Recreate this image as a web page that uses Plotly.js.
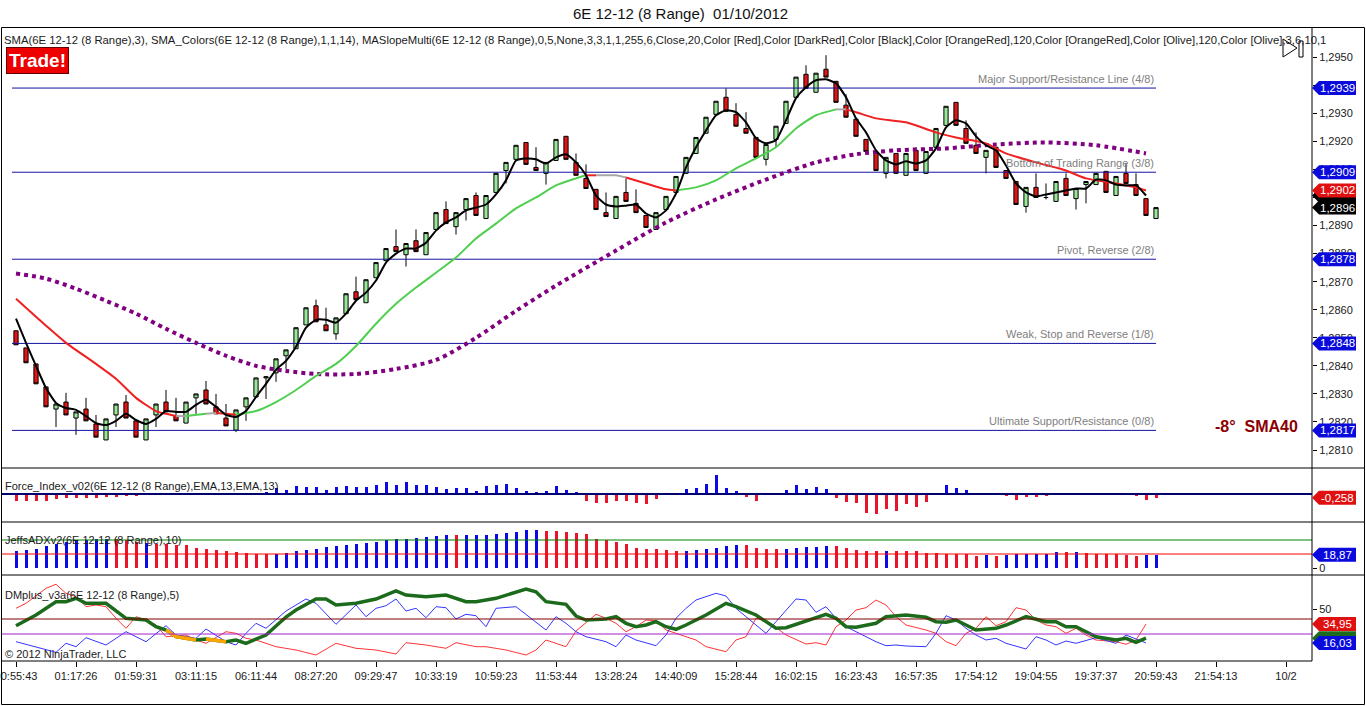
<!DOCTYPE html>
<html><head><meta charset="utf-8">
<script src="https://cdn.plot.ly/plotly-3.0.1.min.js"></script>
<style>html,body{margin:0;padding:0;background:#fff;}#chart{width:1366px;height:706px;}</style>
</head><body><div id="chart"></div>
<script>
// ---------------- DATA ----------------
const barIndex = Array.from({length:115},(_,i)=>i);
const opens = [1.28525,1.28464,1.28407,1.28325,1.28246,1.28271,1.28214,1.28246,1.28193,1.28136,
1.28225,1.28271,1.28204,1.28136,1.28225,1.28271,1.28221,1.28196,1.28286,1.28314,
1.28254,1.28214,1.28171,1.28254,1.28289,1.28357,1.28375,1.28436,1.28461,1.28546,
1.28614,1.28546,1.28514,1.28586,1.28664,1.28625,1.28714,1.28775,1.28825,1.28796,
1.28846,1.28796,1.28886,1.28957,1.28896,1.28957,1.29007,1.28925,1.29018,1.29096,
1.29136,1.29196,1.29107,1.29086,1.29132,1.29218,1.29125,1.29068,1.29029,1.28946,
1.28925,1.29018,1.28979,1.28936,1.28886,1.28957,1.29018,1.29086,1.29157,1.29229,
1.29296,1.29357,1.29296,1.29246,1.29214,1.29136,1.29207,1.29264,1.29357,1.29439,
1.29375,1.29457,1.29414,1.29329,1.29279,1.29207,1.29157,1.29086,1.29157,1.29079,
1.29168,1.29086,1.29179,1.29257,1.29339,1.29246,1.29186,1.29143,1.29179,1.29096,
1.29057,1.28968,1.29036,1.29000,1.28986,1.29068,1.28996,1.29046,1.29046,1.29093,
1.29007,1.29086,1.29046,1.28996,1.28925];
const highs = [1.28525,1.28464,1.28407,1.28325,1.28264,1.28304,1.28236,1.28286,1.28225,1.28211,
1.28264,1.28296,1.28204,1.28211,1.28264,1.28314,1.28286,1.28271,1.28300,1.28346,
1.28300,1.28264,1.28243,1.28286,1.28357,1.28364,1.28425,1.28457,1.28536,1.28607,
1.28636,1.28607,1.28571,1.28657,1.28718,1.28707,1.28768,1.28818,1.28886,1.28836,
1.28886,1.28875,1.28946,1.28986,1.28946,1.28996,1.29018,1.29007,1.29086,1.29125,
1.29186,1.29196,1.29179,1.29125,1.29207,1.29218,1.29157,1.29118,1.29029,1.29018,
1.29004,1.29068,1.29029,1.28936,1.28946,1.29004,1.29075,1.29143,1.29214,1.29286,
1.29343,1.29389,1.29336,1.29304,1.29214,1.29189,1.29254,1.29343,1.29429,1.29471,
1.29443,1.29507,1.29414,1.29368,1.29279,1.29207,1.29157,1.29143,1.29157,1.29157,
1.29179,1.29164,1.29246,1.29325,1.29339,1.29275,1.29232,1.29168,1.29179,1.29096,
1.29057,1.29036,1.29086,1.29050,1.29057,1.29086,1.29032,1.29057,1.29086,1.29093,
1.29075,1.29121,1.29086,1.28996,1.28964];
const lows = [1.28475,1.28411,1.28336,1.28254,1.28182,1.28225,1.28154,1.28204,1.28146,1.28136,
1.28182,1.28214,1.28146,1.28136,1.28182,1.28236,1.28204,1.28196,1.28229,1.28264,
1.28229,1.28186,1.28164,1.28204,1.28289,1.28282,1.28343,1.28389,1.28461,1.28546,
1.28557,1.28525,1.28493,1.28586,1.28636,1.28625,1.28714,1.28775,1.28807,1.28754,
1.28807,1.28796,1.28886,1.28907,1.28868,1.28918,1.28936,1.28925,1.29018,1.29050,
1.29136,1.29118,1.29096,1.29046,1.29132,1.29136,1.29079,1.29032,1.28957,1.28932,
1.28925,1.28986,1.28946,1.28893,1.28886,1.28957,1.29018,1.29086,1.29157,1.29229,
1.29296,1.29307,1.29254,1.29229,1.29143,1.29114,1.29179,1.29264,1.29357,1.29389,
1.29375,1.29429,1.29339,1.29286,1.29218,1.29164,1.29096,1.29068,1.29086,1.29079,
1.29096,1.29086,1.29179,1.29257,1.29257,1.29193,1.29157,1.29086,1.29107,1.29068,
1.28975,1.28946,1.29000,1.28993,1.28986,1.29007,1.28957,1.28979,1.29046,1.29018,
1.29007,1.29050,1.29007,1.28936,1.28925];
const closes = [1.28475,1.28411,1.28336,1.28254,1.28264,1.28225,1.28236,1.28204,1.28146,1.28211,
1.28264,1.28214,1.28146,1.28211,1.28264,1.28236,1.28204,1.28271,1.28300,1.28264,
1.28229,1.28186,1.28243,1.28286,1.28357,1.28361,1.28425,1.28457,1.28536,1.28607,
1.28557,1.28525,1.28571,1.28657,1.28636,1.28707,1.28768,1.28818,1.28807,1.28836,
1.28807,1.28875,1.28946,1.28907,1.28946,1.28996,1.28936,1.29007,1.29086,1.29125,
1.29186,1.29118,1.29096,1.29125,1.29207,1.29136,1.29079,1.29032,1.28957,1.28932,
1.29004,1.28986,1.28946,1.28893,1.28946,1.29004,1.29075,1.29143,1.29214,1.29286,
1.29343,1.29307,1.29254,1.29229,1.29143,1.29189,1.29254,1.29343,1.29429,1.29389,
1.29443,1.29429,1.29339,1.29286,1.29218,1.29164,1.29096,1.29143,1.29086,1.29157,
1.29096,1.29164,1.29246,1.29325,1.29257,1.29193,1.29157,1.29168,1.29107,1.29068,
1.28975,1.29036,1.29000,1.29000,1.29057,1.29007,1.29032,1.29057,1.29086,1.29018,
1.29075,1.29050,1.29007,1.28936,1.28964];

// SMA(3) black, one value per bar 0..113
const sma3 = [1.28568,1.28482,1.28400,1.28321,1.28268,1.28250,1.28243,1.28221,1.28196,1.28189,
1.28204,1.28229,1.28207,1.28193,1.28211,1.28239,1.28236,1.28236,1.28261,1.28279,
1.28254,1.28225,1.28218,1.28239,1.28289,1.28336,1.28386,1.28418,1.28468,1.28536,
1.28564,1.28564,1.28554,1.28586,1.28632,1.28661,1.28704,1.28768,1.28800,1.28818,
1.28818,1.28839,1.28882,1.28911,1.28929,1.28954,1.28964,1.28975,1.29011,1.29061,
1.29132,1.29139,1.29136,1.29121,1.29143,1.29154,1.29125,1.29079,1.29007,1.28975,
1.28968,1.28971,1.28975,1.28943,1.28929,1.28954,1.29014,1.29107,1.29179,1.29239,
1.29293,1.29311,1.29304,1.29268,1.29211,1.29193,1.29204,1.29275,1.29354,1.29393,
1.29418,1.29421,1.29407,1.29357,1.29282,1.29232,1.29168,1.29132,1.29118,1.29129,
1.29121,1.29132,1.29175,1.29250,1.29275,1.29264,1.29218,1.29186,1.29168,1.29114,
1.29050,1.29018,1.29004,1.29011,1.29018,1.29025,1.29032,1.29032,1.29064,1.29061,
1.29046,1.29043,1.29043,1.29007];

// SMA_Colors (14) read at these bars, with the colour state of the following segment
const sma14Bars = [0,3,5,8,10,12,14,15,16,17,19,20,21,22,24,26,28,30,32,34,36,38,40,42,44,46,48,50,52,54,56,57,58,60,61,63,65,66,68,70,72,74,76,78,80,82,83,84,86,89,92,94,97,99,102,105,107,110,112,113];
const sma14Vals = [1.28639,1.28543,1.28482,1.28407,1.28354,1.28286,1.28239,1.28229,1.28221,1.28221,
1.28229,1.28232,1.28229,1.28226,1.28239,1.28271,1.28314,1.28364,1.28407,1.28471,
1.28550,1.28621,1.28679,1.28732,1.28786,1.28854,1.28907,1.28961,1.29000,1.29043,
1.29068,1.29079,1.29079,1.29079,1.29071,1.29050,1.29029,1.29025,1.29036,1.29061,
1.29104,1.29139,1.29179,1.29246,1.29293,1.29314,1.29314,1.29304,1.29282,1.29268,
1.29232,1.29214,1.29193,1.29157,1.29125,1.29096,1.29068,1.29050,1.29036,1.29025];
const sma14State = ['dn','dn','dn','dn','dn','dn','dn','dn','fl','up','fl','dn','dn',
'up','up','up','up','up','up','up','up','up','up','up','up','up','up','up','up','up','up',
'dn','fl','fl','dn','dn','dn','up','up','up','up','up','up','up','up','fl',
'dn','dn','dn','dn','dn','dn','dn','dn','dn','dn','dn','dn','dn','dn'];

// MASlopeMulti (SMA40) purple dotted
const sma40Bars = [0,3,6,9,12,15,18,21,24,27,30,34,38,42,46,50,54,60,65,70,75,80,84,88,93,98,103,108,113];
const sma40Vals = [1.28729,1.28711,1.28675,1.28632,1.28586,1.28532,1.28482,1.28436,1.28400,1.28382,1.28371,1.28371,1.28389,1.28421,1.28500,1.28596,1.28686,1.28811,1.28911,1.28993,1.29064,1.29125,1.29154,1.29168,1.29175,1.29189,1.29196,1.29186,1.29157];

// Murrey math levels
const levelVals = [1.2939,1.2909,1.2878,1.2848,1.2817];
const levelNames = ['Major Support/Resistance Line (4/8)','Bottom of Trading Range (3/8)','Pivot, Reverse (2/8)','Weak, Stop and Reverse (1/8)','Ultimate Support/Resistance (0/8)'];
const levelStart = -0.4, levelEnd = 114;

// Force index
const forceVals = [-0.47,-0.47,-0.47,-0.47,-0.37,-0.30,-0.26,-0.26,-0.26,-0.23,
-0.19,-0.14,-0.12,-0.10,-0.10,-0.10,-0.10,-0.10,-0.10,-0.10,
-0.10,-0.10,-0.10,-0.05,0.05,0.12,0.40,0.28,0.56,0.51,
0.51,0.28,0.47,0.56,0.51,0.51,0.63,0.82,0.63,0.82,
0.63,0.63,0.51,0.33,0.40,0.40,0.23,0.56,0.63,0.70,
0.40,0.21,0.14,0.19,0.56,0.28,0.14,-0.47,-0.65,-0.65,
-0.47,-0.47,-0.65,-0.72,-0.37,-0.07,0.02,0.35,0.44,0.70,
1.33,0.40,0.21,-0.19,-0.47,-0.05,0.09,0.28,0.63,0.35,
0.51,0.35,-0.30,-0.54,-0.61,-1.31,-1.42,-1.07,-1.17,-0.72,
-0.89,-0.54,0.09,0.63,0.44,0.28,0.02,-0.02,-0.05,-0.15,
-0.40,-0.20,-0.20,-0.15,-0.08,-0.08,-0.08,-0.02,-0.02,-0.02,
-0.02,-0.03,-0.15,-0.40,-0.258];

// JeffsADX histogram and its direction (1 = blue, 0 = red)
const adxHist = [23.8,25.2,27.6,31,33.8,37.1,38.6,40.5,41,42,
42,39.5,37,35.7,34.8,33.8,32.4,32.4,29,26.7,
25.2,23.8,22.9,21.9,20.5,19.5,20.5,21.4,23.8,25.2,
27.6,30,31,32.4,34.8,35.7,37.1,39.5,41.9,41.9,
43.3,44.3,45.2,46.7,46.7,47.6,47.6,47.6,49,50.5,
51.4,53.8,54.8,52.9,52.4,51.4,50.5,48.1,41.9,39.5,
37.1,33.8,29,27.6,27.6,25.2,23.8,23.8,25.2,26.7,
29,31,32.4,32.4,29,26.7,26.7,26.7,28.6,30,
30,31,31,28.6,25.2,23.8,23.8,23.8,23.8,23.8,
23.8,21.9,21.4,20.5,19.5,20.5,16.7,18,16.7,19,
20.5,20.5,20.5,20.5,22.9,22.9,22.9,21.9,20.5,20.5,
20.5,19,16.7,18.87,18.87];
const adxHistUp = [1,1,1,1,1,1,1,1,1,1, 0,0,0, 1, 0,0,0,0,0,0,0,0,0,0,0,0,
1,1,1,1,1,1,1,1,1,1,1,1,1,1,1,1,1,1, 0, 1,1,1,1,1,1,1,1,
0,0,0,0,0,0,0,0,0,0,0,0,0,0, 1,1,1,1,1,1, 0,0,0,0, 1,1,1,1,1, 0,0,0,0,0, 1,
0,0,0,0,0,0,0,0,0, 1, 0, 1,1,1,1,1,1, 0, 1, 0,0,0,0,0,0, 1,1];
const adxLevels = [40,20];

// DMplus: DI+ (red), DI- (blue), ADX (green, orange when weak)
const diPlusBars = [0,1,3,4,5,6,7,8,9,10,11,12,13,14,15,17,18,19,21,22,23,24,26,28,30,32,34,36,38,39,41,43,44,46,47,49,51,52,53,55,56,57,58,59,60,61,62,63,64,65,66,68,69,71,72,73,74,75,77,79,80,81,82,83,84,85,86,87,88,89,91,92,93,94,95,96,97,98,99,100,101,102,103,104,105,106,107,108,110,111,112,113];
const diPlusVals = [50.7,55.7,70.7,74.7,65.7,62.3,52.3,54,52.3,40.7,30.7,42.3,39,34,22.3,24,19,15.7,27.3,25.7,20.7,19,12.3,9,4,15.7,10.7,9,5,16.3,14,10.7,16.3,12.3,12.3,9,4,9,19,12.3,28,36,44.7,40.7,35.7,27.3,32.3,39,38.3,29,25.7,19,12.3,7.3,19,22.3,40.7,39,24,15,16.3,14,32.3,39,49,51.3,59,54,42.3,34,29,25.7,17.3,13.3,25.7,30.7,42.3,33.3,37.3,51.3,49,39,34,32.3,25.7,30.7,24,19,17.3,14.7,19,34.95];
const diMinusBars = [0,2,4,5,6,7,9,11,13,15,16,18,19,21,22,23,24,25,27,29,30,32,34,35,36,37,38,39,40,41,42,43,44,45,46,47,48,50,52,53,54,55,56,57,59,60,61,62,64,65,66,67,68,70,71,72,73,74,75,76,78,79,80,81,82,83,84,85,86,87,88,89,91,92,93,94,95,96,97,98,99,101,102,103,104,105,106,108,110,111,112,113];
const diMinusVals = [17.3,12.3,6.7,15.7,12.3,21.3,14,27.3,17.3,33.3,24,20.7,30,17.3,14,25.7,35.7,30.7,48,60,55.7,34.7,54,42.3,50.7,53.3,60,48,50.7,41.3,52.3,51.3,40,44.7,43.3,32.3,50.7,52.3,37.3,29,42.3,35.7,27.3,22.3,17.3,12.3,24,19,13.3,24,40.7,50.7,59,65.7,63,50.7,42.3,34,25.7,37.3,60,59,46.7,52.3,40.7,32.3,27.3,22.3,17.3,13.3,14,13,12.3,25.7,43.3,39,30.7,24,19,20.7,15.7,10,22.3,19,14,18,15.7,21.3,15.7,24,20,16.03];
const adxBars = [0,2,4,5,6,7,9,11,13,14,15,16,18,19,21,22,23,25,27,28,30,31,32,34,36,38,39,41,43,45,46,48,51,52,53,55,56,57,59,60,61,62,63,64,65,66,67,69,71,72,74,75,76,77,79,81,82,83,84,86,87,89,91,92,93,94,96,97,98,99,101,103,104,105,106,108,110,111,112,113];
const adxVals = [33.3,44,57.3,57.3,60.7,55.7,55.7,40.7,39,32.3,29,22.3,19,20,17.3,19,15.7,24,42,49,60,60,54,55.7,60,68,64,62.3,64,57.3,57.3,60.7,70,67.3,57.3,54.7,43,39,40,42.3,35.7,32.3,34,37.3,32.3,29.7,34,44,55.7,52.3,44,37.3,30.7,31.3,38,44.7,40.7,32.3,31.7,35.7,42.3,44,41.7,37.3,36.7,39,29,30,30.7,34,42.3,37.3,37.3,32.3,32.3,22.3,19,20.7,16.7,20.81];
const adxWeakSpans = [[15,18],[19,21]];
const dmLevels = [40,25];

// axis ticks
const xTickBars = [0,6,12,18,24,30,36,42,48,54,60,66,72,78,84,90,96,102,108,114,120,127];
const xTickLabels = ['00:55:43','01:17:26','01:59:31','03:11:15','06:11:44','08:27:20','09:29:47','10:33:19','10:59:23','11:53:44','13:28:24','14:40:09','15:28:44','16:02:15','16:23:43','16:57:35','17:54:12','19:04:55','19:37:37','20:59:43','21:54:13','10/2'];
const priceTicks = [1.281,1.282,1.283,1.284,1.285,1.286,1.287,1.288,1.289,1.290,1.291,1.292,1.293,1.294,1.295];

// ---------------- LAYOUT HELPERS ----------------
const F = 'Liberation Sans, Arial, sans-serif';
const W=1366, H=706, M={l:1,r:54,t:28,b:45};
const plotW=W-M.l-M.r, plotH=H-M.t-M.b;
const px2x = px => (px-M.l)/plotW;
const px2y = py => (H-M.b-py)/plotH;
const panels = {main:[28,468], force:[468,522], adx:[522,575], dm:[575,661]};
const ranges = {main:[1.28036,1.29604], force:[-1.96,1.82], adx:[-10,65.71], dm:[-2,84]};
const dom = p => [px2y(panels[p][1]), px2y(panels[p][0])];
const v2p = (p,v) => { const d=dom(p), r=ranges[p]; return d[0]+(v-r[0])/(r[1]-r[0])*(d[1]-d[0]); };

const shapes=[], annotations=[], traces=[];

// candles
traces.push({type:'candlestick', x:barIndex, open:opens, high:highs, low:lows, close:closes,
  xaxis:'x', yaxis:'y', whiskerwidth:0,
  increasing:{fillcolor:'#98e898', line:{color:'#000', width:1}},
  decreasing:{fillcolor:'#e01515', line:{color:'#000', width:1}}, hoverinfo:'skip'});

// level lines
levelVals.forEach((v,i)=>{
  traces.push({type:'scatter', mode:'lines', x:[levelStart,levelEnd], y:[v,v], xaxis:'x', yaxis:'y',
    line:{color:'#1212a0', width:1}, hoverinfo:'skip'});
  annotations.push({xref:'x', yref:'y', x:levelEnd, y:v, text:levelNames[i], showarrow:false,
    xanchor:'right', yanchor:'bottom', yshift:1, font:{family:F, size:11, color:'#808080'}});
});

// purple dotted SMA40
traces.push({type:'scatter', mode:'lines', x:sma40Bars, y:sma40Vals, xaxis:'x', yaxis:'y',
  line:{color:'#800080', width:4, dash:'dot', shape:'spline', smoothing:0.8}, hoverinfo:'skip'});

// SMA14 coloured segments
const stateColor = {up:'#4fcf4f', dn:'#f02020', fl:'#a8a8a8'};
let segStart=0;
for(let i=1;i<sma14Bars.length;i++){
  const last = (i===sma14Bars.length-1);
  if(last || sma14State[i]!==sma14State[segStart]){
    const xs=sma14Bars.slice(segStart,i+1), ys=sma14Vals.slice(segStart,i+1);
    traces.push({type:'scatter', mode:'lines', x:xs, y:ys, xaxis:'x', yaxis:'y',
      line:{color:stateColor[sma14State[segStart]], width:2, shape:'spline', smoothing:0.6}, hoverinfo:'skip'});
    segStart=i;
  }
}

// black SMA3
traces.push({type:'scatter', mode:'lines', x:barIndex.slice(0,sma3.length), y:sma3, xaxis:'x', yaxis:'y',
  line:{color:'#000', width:2, shape:'spline', smoothing:0.5}, hoverinfo:'skip'});

// force bars
traces.push({type:'bar', x:barIndex, y:forceVals, xaxis:'x', yaxis:'y2', width:0.3,
  marker:{color:forceVals.map(v=>v>=0?'#0a0ae6':'#e8152a'), line:{width:0}}, hoverinfo:'skip'});

// ADX histogram
traces.push({type:'bar', x:barIndex, y:adxHist, xaxis:'x', yaxis:'y3', width:0.3,
  marker:{color:adxHistUp.map(u=>u?'#0a0ae6':'#e8152a'), line:{width:0}}, hoverinfo:'skip'});

// DM lines
traces.push({type:'scatter', mode:'lines', x:diPlusBars, y:diPlusVals, xaxis:'x', yaxis:'y4',
  line:{color:'#ff3535', width:1}, hoverinfo:'skip'});
traces.push({type:'scatter', mode:'lines', x:diMinusBars, y:diMinusVals, xaxis:'x', yaxis:'y4',
  line:{color:'#3535ff', width:1}, hoverinfo:'skip'});
traces.push({type:'scatter', mode:'lines', x:adxBars, y:adxVals, xaxis:'x', yaxis:'y4',
  line:{color:'#1c6b1c', width:3.5}, hoverinfo:'skip'});
adxWeakSpans.forEach(([a,b])=>{
  const xs=[], ys=[];
  adxBars.forEach((bx,i)=>{ if(bx>=a && bx<=b){xs.push(bx); ys.push(adxVals[i]);} });
  traces.push({type:'scatter', mode:'lines', x:xs, y:ys, xaxis:'x', yaxis:'y4',
    line:{color:'#ffa500', width:3.5}, hoverinfo:'skip'});
});

// reference lines in indicator panels
shapes.push({type:'line', xref:'paper', yref:'y2', x0:0, x1:1, y0:0, y1:0, line:{color:'#000070', width:2}});
shapes.push({type:'line', xref:'paper', yref:'y3', x0:0, x1:1, y0:adxLevels[0], y1:adxLevels[0], line:{color:'#008000', width:1}});
shapes.push({type:'line', xref:'paper', yref:'y3', x0:0, x1:1, y0:adxLevels[1], y1:adxLevels[1], line:{color:'#ff0000', width:1}});
shapes.push({type:'line', xref:'paper', yref:'y4', x0:0, x1:1, y0:dmLevels[0], y1:dmLevels[0], line:{color:'#800000', width:1}});
shapes.push({type:'line', xref:'paper', yref:'y4', x0:0, x1:1, y0:dmLevels[1], y1:dmLevels[1], line:{color:'#a020d0', width:1}});

// frames
const L = (x0,y0,x1,y1)=>shapes.push({type:'line', xref:'paper', yref:'paper', x0:px2x(x0), x1:px2x(x1), y0:px2y(y0), y1:px2y(y1), line:{color:'#000', width:1}, layer:'above'});
shapes.push({type:'rect', xref:'paper', yref:'paper', x0:px2x(1.5), x1:px2x(1364.5), y0:px2y(704.5), y1:px2y(27.5), line:{color:'#000', width:1}});
L(1,468,1365,468); L(1,522,1365,522); L(1,575,1365,575);
L(1312,27.5,1312,661); L(1,661,1312,661);

// price flags
function flag(panel, v, color, text){
  const yc=v2p(panel,v), h=7/plotH;
  const xa=px2x(1312), xb=px2x(1319), xc=px2x(1356);
  shapes.push({type:'path', xref:'paper', yref:'paper', layer:'above',
    path:`M${xa},${yc} L${xb},${yc+h} L${xc},${yc+h} L${xc},${yc-h} L${xb},${yc-h} Z`,
    fillcolor:color, line:{color:color, width:0}});
  if(text) annotations.push({xref:'paper', yref:'paper', x:px2x(1337.5), y:yc, text, showarrow:false,
    xanchor:'center', yanchor:'middle', font:{family:F, size:11.5, color:'#fff'}});
}
levelVals.forEach(v=>flag('main', v, '#0a0adc', v.toFixed(4).replace('.',',')));
flag('main', sma3[sma3.length-1], '#000', '');
flag('main', sma14Vals[sma14Vals.length-1], '#e01010', '1,2902');
flag('main', closes[closes.length-1], '#000', '1,2896');
flag('force', forceVals[forceVals.length-1], '#e01010', '-0,258');
flag('adx', adxHist[adxHist.length-1], '#0a0adc', '18,87');
flag('dm', diPlusVals[diPlusVals.length-1], '#e01010', '34,95');
flag('dm', adxVals[adxVals.length-1], '#1c6b1c', '');
flag('dm', diMinusVals[diMinusVals.length-1], '#0a0adc', '16,03');

// texts
const T = (px,py,text,opts)=>annotations.push(Object.assign({xref:'paper', yref:'paper', x:px2x(px), y:px2y(py), text, showarrow:false, xanchor:'left', yanchor:'middle', font:{family:F, size:11, color:'#1a1a1a'}}, opts||{}));
T(680,13,'6E 12-12 (8 Range)  01/10/2012',{xanchor:'center', font:{family:F, size:15, color:'#111'}});
T(2,40,'SMA(6E 12-12 (8 Range),3), SMA_Colors(6E 12-12 (8 Range),1,1,14), MASlopeMulti(6E 12-12 (8 Range),0,5,None,3,3,1,1,255,6,Close,20,Color [Red],Color [DarkRed],Color [Black],Color [OrangeRed],120,Color [OrangeRed],Color [Olive],120,Color [Olive],3,6,10,1',{font:{family:F, size:11.3, color:'#1a1a1a'}});
T(6,60,'<b>Trade!</b>',{bgcolor:'#ee0000', bordercolor:'#600000', borderwidth:1, borderpad:2, font:{family:'Liberation Sans Narrow, Liberation Sans, Arial', size:19, color:'#fff'}});
T(1256,426,'<b>-8°  SMA40</b>',{xanchor:'center', font:{family:F, size:16, color:'#8b0000'}});
T(3,486,'Force_Index_v02(6E 12-12 (8 Range),EMA,13,EMA,13)');
T(3,540,'JeffsADXv2(6E 12-12 (8 Range),10)');
T(3,595,'DMplus_v3a(6E 12-12 (8 Range),5)');
T(3,654,'© 2012 NinjaTrader, LLC');

// play icon
shapes.push({type:'path', xref:'paper', yref:'paper', layer:'above',
  path:`M${px2x(1283)},${px2y(39)} L${px2x(1297)},${px2y(48)} L${px2x(1283)},${px2y(57)} Z`,
  fillcolor:'#fff', line:{color:'#000', width:1}});
shapes.push({type:'rect', xref:'paper', yref:'paper', layer:'above',
  x0:px2x(1299), x1:px2x(1303), y0:px2y(57), y1:px2y(41), fillcolor:'#fff', line:{color:'#000', width:1}});

const yBase = {side:'right', anchor:'x', showgrid:false, zeroline:false, showline:false, ticks:'outside', ticklen:4, tickcolor:'#000', tickfont:{family:F, size:11, color:'#1a1a1a'}, fixedrange:true};
const layout = {
  width:W, height:H, margin:M, paper_bgcolor:'#fff', plot_bgcolor:'#fff', showlegend:false,
  separators:',.', hovermode:false, boxgap:0.4, bargap:0,
  barmode:'overlay',
  xaxis:{anchor:'y4', range:[-1.5,129.6], showgrid:false, zeroline:false, showline:false, ticks:'outside', ticklen:5, tickcolor:'#000',
    tickvals:xTickBars, ticktext:xTickLabels, tickfont:{family:F, size:11, color:'#1a1a1a'}, rangeslider:{visible:false}, ticklabeloverflow:'allow', fixedrange:true},
  yaxis:Object.assign({}, yBase, {domain:dom('main'), range:ranges.main, tickvals:priceTicks, tickformat:'.4f'}),
  yaxis2:Object.assign({}, yBase, {domain:dom('force'), range:ranges.force, showticklabels:false, ticks:''}),
  yaxis3:Object.assign({}, yBase, {domain:dom('adx'), range:ranges.adx, tickvals:[0]}),
  yaxis4:Object.assign({}, yBase, {domain:dom('dm'), range:ranges.dm, tickvals:[50]}),
  shapes, annotations
};
Plotly.newPlot('chart', traces, layout, {staticPlot:true, displayModeBar:false});
</script></body></html>
